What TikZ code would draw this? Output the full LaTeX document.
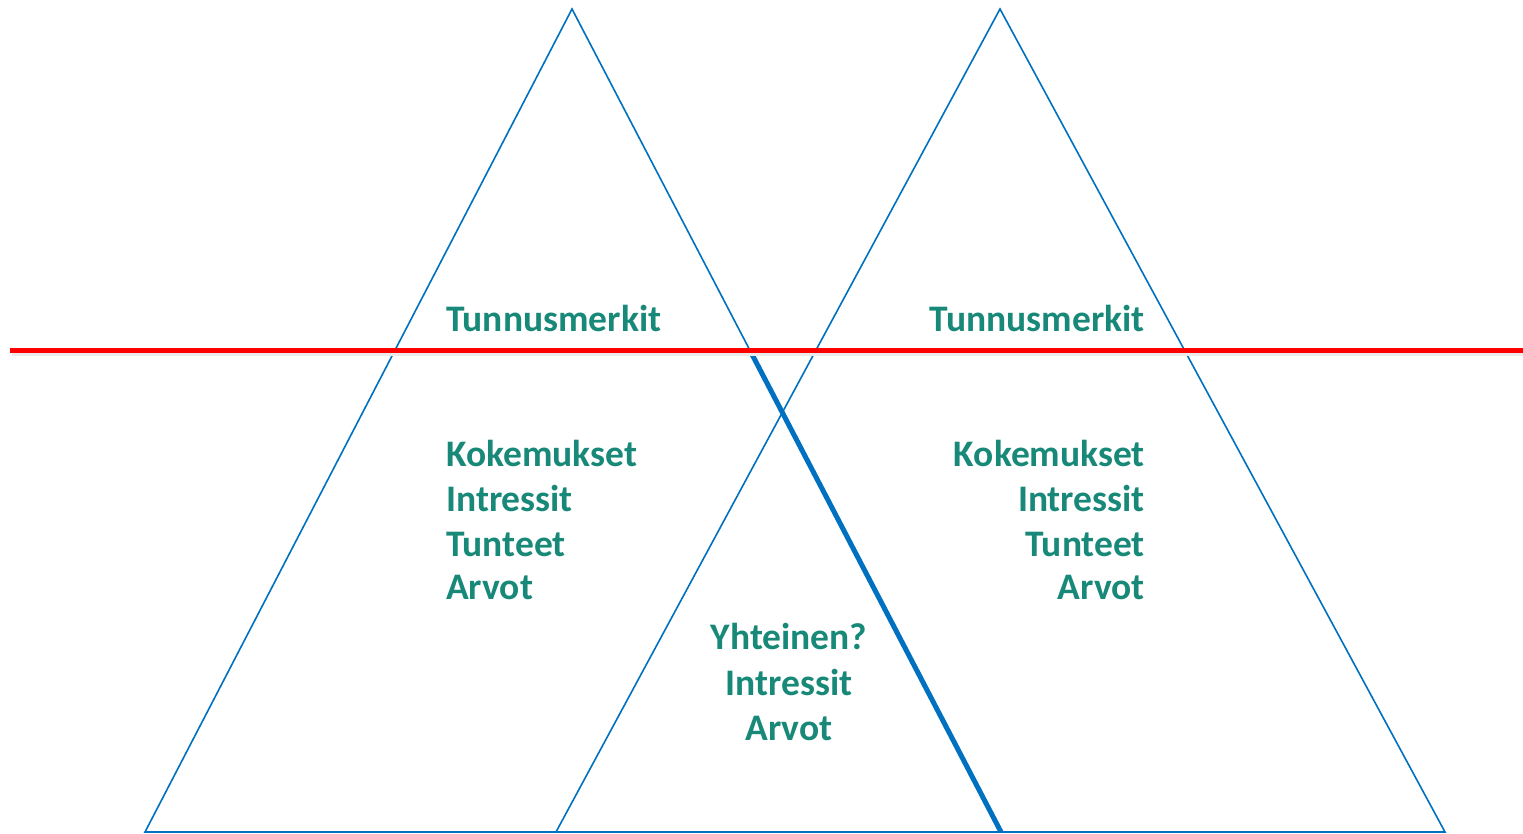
\documentclass[tikz,border=0pt]{standalone}
\usepackage{fontspec}
\setmainfont{Carlito}
\usetikzlibrary{calc}
\definecolor{triblue}{RGB}{0,112,192}
\definecolor{teal1}{RGB}{24,137,120}
\definecolor{redline}{RGB}{255,0,0}
\begin{document}
\begin{tikzpicture}[x=1pt,y=-1pt,
  tri/.style={draw=triblue,line width=1.6pt,line join=miter},
  thick blue/.style={draw=triblue,line width=5pt},
  lab/.style={text=teal1,font=\fontsize{37.5}{44}\selectfont\bfseries,inner sep=0pt}]
\useasboundingbox (0,0) rectangle (1523,834);
\coordinate (LA) at (572,9);
\coordinate (LB) at (145,832);
\coordinate (LC) at (1001,832);
\coordinate (RA) at (1000,9);
\coordinate (RB) at (556,832);
\coordinate (RC) at (1445,832);
\coordinate (RL) at (10,350);
\coordinate (RR) at (1523,350);
\coordinate (X) at ($(LA)!0.4145!(LC)$);
\draw[tri] (LA) -- (LB) -- (LC) -- cycle;
\draw[tri] (RA) -- (RB) -- (RC) -- cycle;
\draw[thick blue] (X) -- (LC);
\draw[draw=black!8,line width=6pt] (12,352.5) -- (1523,352.5);
\draw[draw=redline,line width=5pt] (RL) -- (RR);
% left block
\node[lab,anchor=base west] (l0) at (446,331) {Tunnusmerkit};
\node[lab,anchor=base west] (l1) at (446,466) {Kokemukset};
\node[lab,anchor=base west] (l2) at (446,511) {Intressit};
\node[lab,anchor=base west] (l3) at (446,556) {Tunteet};
\node[lab,anchor=base west] (l4) at (446,599) {Arvot};
% right block
\node[lab,anchor=base east] (r0) at (1145,331) {Tunnusmerkit};
\node[lab,anchor=base east] (r1) at (1145,466) {Kokemukset};
\node[lab,anchor=base east] (r2) at (1145,511) {Intressit};
\node[lab,anchor=base east] (r3) at (1145,556) {Tunteet};
\node[lab,anchor=base east] (r4) at (1145,599) {Arvot};
% middle block
\node[lab,anchor=base] (m0) at (789,649) {Yhteinen?};
\node[lab,anchor=base] (m1) at (789,695) {Intressit};
\node[lab,anchor=base] (m2) at (789,740) {Arvot};
\end{tikzpicture}
\end{document}
